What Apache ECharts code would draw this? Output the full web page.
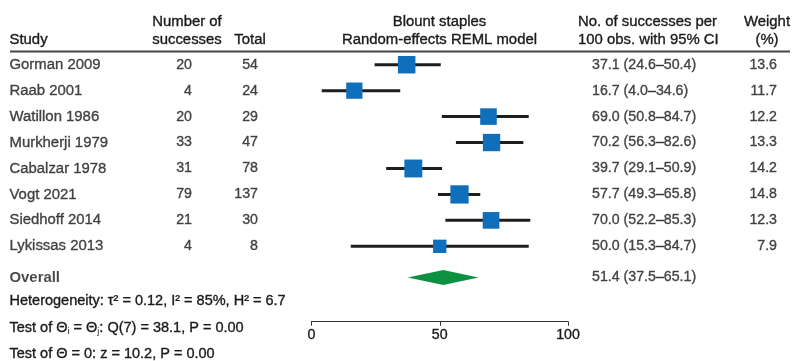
<!DOCTYPE html>
<html><head><meta charset="utf-8">
<script src="https://cdn.jsdelivr.net/npm/echarts@6/dist/echarts.min.js"></script>
<style>html,body{margin:0;padding:0;background:#fff}#c{width:794px;height:361px}</style>
</head><body><div id="c"></div>
<script>
const studies = ['Gorman 2009','Raab 2001','Watillon 1986','Murkherji 1979','Cabalzar 1978','Vogt 2021','Siedhoff 2014','Lykissas 2013'];
const successes = [20,4,20,33,31,79,21,4];
const totals = [54,24,29,47,78,137,30,8];
const estimates = [37.1,16.7,69.0,70.2,39.7,57.7,70.0,50.0];
const lowerCI = [24.6,4.0,50.8,56.3,29.1,49.3,52.2,15.3];
const upperCI = [50.4,34.6,84.7,82.6,50.9,65.8,85.3,84.7];
const weights = [13.6,11.7,12.2,13.3,14.2,14.8,12.3,7.9];
const overallLabel = 'Overall';
const overallEst = 51.4, overallLo = 37.5, overallHi = 65.1;
const xTicks = [0,50,100];

const FONT = 'Liberation Sans, Arial, sans-serif';
const TXT = '#1a1a1a';
const FSW = 14.9;   // word text
const FSN = 14.2;   // numeric text
const BW = 0.35;    // slight stroke to mimic medium weight
const ROW = i => i + 0.5;
const OVERALL_ROW = 8.7;

const fmt = (e,l,h) => e.toFixed(1)+' ('+l.toFixed(1)+'\u2013'+h.toFixed(1)+')';

function textSeries(xpos, rows, texts, align, fs, bold) {
  return {
    type:'scatter', xAxisIndex:1, yAxisIndex:1, symbolSize:0, silent:true,
    data: rows.map((r,i)=>[xpos, r, texts[i]]),
    label:{show:true, position:'inside', align:align, verticalAlign:'middle',
      formatter:p=>p.value[2], color:TXT, fontSize:fs, fontFamily:FONT,
      fontWeight: bold?'bold':'normal', textBorderColor:TXT, textBorderWidth: bold?0:BW}
  };
}
const rows = studies.map((s,i)=>ROW(i));

function gtext(x, y, text, align, fs) {
  return {type:'text', x:x, y:y, style:{text:text, fill:TXT, fontSize:fs||FSW, fontFamily:FONT,
    align:align||'left', verticalAlign:'middle', stroke:TXT, lineWidth:BW}};
}

const chart = echarts.init(document.getElementById('c'), null, {renderer:'canvas'});
const option = {
  animation:false,
  grid:[
    {left:311.5, width:256.5, top:51.73, height:233.5},
    {left:0, width:794, top:51.73, height:233.5}
  ],
  xAxis:[
    {gridIndex:0, type:'value', min:0, max:100, interval:50, offset:36.5, position:'bottom',
     axisLine:{show:true, onZero:false, lineStyle:{color:'#333', width:1}},
     axisTick:{show:true, length:4, lineStyle:{color:'#333'}},
     axisLabel:{color:TXT, fontSize:FSN, fontFamily:FONT, margin:6, textBorderColor:TXT, textBorderWidth:BW,
       formatter:v=> xTicks.includes(v)? String(v):''},
     splitLine:{show:false}},
    {gridIndex:1, type:'value', min:0, max:794, show:false}
  ],
  yAxis:[
    {gridIndex:0, type:'value', min:0, max:9, inverse:true, show:false},
    {gridIndex:1, type:'value', min:0, max:9, inverse:true, show:false}
  ],
  series:[
    {type:'custom', xAxisIndex:0, yAxisIndex:0, silent:true,
     data: rows.map((r,i)=>[lowerCI[i], upperCI[i], r]),
     renderItem:(params, api)=>{
       const a = api.coord([api.value(0), api.value(2)]);
       const b = api.coord([api.value(1), api.value(2)]);
       return {type:'line', shape:{x1:a[0], y1:a[1], x2:b[0], y2:b[1]},
         style:{stroke:'#1e1e1e', lineWidth:3}};
     }, z:2},
    {type:'scatter', xAxisIndex:0, yAxisIndex:0, silent:true, symbol:'rect',
     data: rows.map((r,i)=>[estimates[i], r, weights[i]]),
     symbolSize: v => 4.75*Math.sqrt(v[2]),
     itemStyle:{color:'#0f6fba', opacity:1}, z:3},
    {type:'custom', xAxisIndex:0, yAxisIndex:0, silent:true,
     data:[[overallLo, overallEst, overallHi, OVERALL_ROW]],
     renderItem:(params, api)=>{
       const y = api.value(3);
       const l = api.coord([api.value(0), y]);
       const m = api.coord([api.value(1), y]);
       const r = api.coord([api.value(2), y]);
       const h = 7.5;
       return {type:'polygon', shape:{points:[[l[0],l[1]],[m[0],m[1]-h],[r[0],r[1]],[m[0],m[1]+h]]},
         style:{fill:'#0c9141'}};
     }, z:3},
    textSeries(9.5, rows, studies, 'left', FSW, false),
    textSeries(192, rows, successes.map(String), 'right', FSN, false),
    textSeries(258, rows, totals.map(String), 'right', FSN, false),
    textSeries(592, rows, studies.map((s,i)=>fmt(estimates[i], lowerCI[i], upperCI[i])), 'left', FSN, false),
    textSeries(777, rows, weights.map(w=>w.toFixed(1)), 'right', FSN, false),
    textSeries(9.5, [OVERALL_ROW], [overallLabel], 'left', FSW, true),
    textSeries(592, [OVERALL_ROW], [fmt(overallEst, overallLo, overallHi)], 'left', FSN, false)
  ],
  graphic:[
    {type:'line', shape:{x1:10, y1:51.5, x2:790, y2:51.5}, style:{stroke:'#444', lineWidth:2}},
    gtext(9.5, 39.5, 'Study'),
    gtext(187, 22, 'Number of', 'center'),
    gtext(187, 39.5, 'successes', 'center'),
    gtext(250, 39.5, 'Total', 'center'),
    gtext(439.5, 22, 'Blount staples', 'center'),
    gtext(439.5, 39.5, 'Random-effects REML model', 'center'),
    gtext(578, 22, 'No. of successes per', 'left'),
    gtext(578, 39.5, '100 obs. with 95% CI', 'left'),
    gtext(767, 22, 'Weight', 'center'),
    gtext(767, 39.5, '(%)', 'center'),
    gtext(9.5, 301, 'Heterogeneity: \u03c4\u00b2 = 0.12, I\u00b2 = 85%, H\u00b2 = 6.7', 'left', 14.5),
    {type:'text', x:9.5, y:327.5, style:{
      text:'{n|Test of \u0398}{s|i}{n| = \u0398}{s|j}{n|: Q(7) = 38.1, P = 0.00}',
      align:'left', verticalAlign:'middle',
      rich:{n:{fill:TXT, fontSize:14.5, fontFamily:FONT, lineHeight:20, verticalAlign:'middle', stroke:TXT, lineWidth:BW},
            s:{fill:TXT, fontSize:9, fontFamily:FONT, lineHeight:20, verticalAlign:'bottom', padding:[0,0,1,0]}}}},
    gtext(9.5, 354.3, 'Test of \u0398 = 0: z = 10.2, P = 0.00', 'left', 14.5)
  ]
};
chart.setOption(option);
</script></body></html>
